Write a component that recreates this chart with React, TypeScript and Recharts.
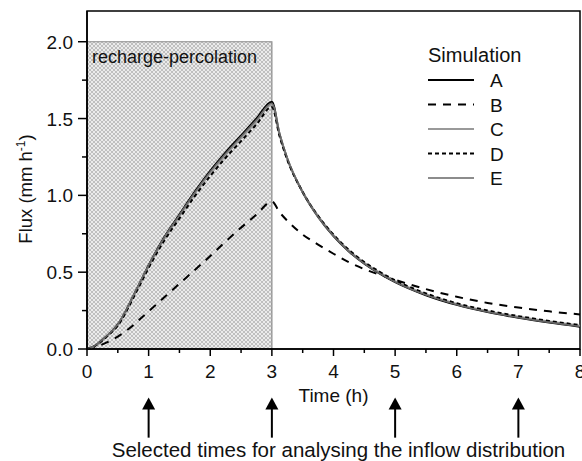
import React from 'react';
import { LineChart, Line, XAxis, YAxis, ReferenceArea, ReferenceLine, Legend } from 'recharts';

const times = [0, 0.125, 0.25, 0.375, 0.5, 0.625, 0.75, 0.875, 1, 1.25, 1.5, 1.75, 2, 2.25, 2.5, 2.75, 3, 3.125, 3.25, 3.5, 3.75, 4, 4.25, 4.5, 4.75, 5, 5.5, 6, 6.5, 7, 7.5, 8];
const simA = [0, 0.02, 0.06, 0.105, 0.16, 0.245, 0.345, 0.445, 0.545, 0.725, 0.875, 1.025, 1.16, 1.28, 1.39, 1.5, 1.61, 1.4, 1.24, 1.02, 0.86, 0.735, 0.635, 0.555, 0.49, 0.435, 0.35, 0.287, 0.24, 0.203, 0.172, 0.145];
const simB = [0, 0.01, 0.03, 0.053, 0.08, 0.115, 0.155, 0.2, 0.245, 0.335, 0.425, 0.515, 0.605, 0.7, 0.79, 0.875, 0.96, 0.89, 0.835, 0.745, 0.68, 0.62, 0.565, 0.52, 0.483, 0.45, 0.39, 0.34, 0.3, 0.27, 0.245, 0.225];
const simC = [0, 0.019, 0.058, 0.102, 0.156, 0.24, 0.34, 0.44, 0.539, 0.717, 0.865, 1.013, 1.146, 1.265, 1.374, 1.483, 1.592, 1.395, 1.238, 1.022, 0.864, 0.74, 0.64, 0.56, 0.496, 0.441, 0.356, 0.293, 0.246, 0.209, 0.178, 0.151];
const simD = [0, 0.018, 0.056, 0.1, 0.152, 0.234, 0.332, 0.43, 0.528, 0.703, 0.85, 0.995, 1.126, 1.245, 1.353, 1.462, 1.575, 1.385, 1.232, 1.022, 0.866, 0.744, 0.645, 0.566, 0.502, 0.447, 0.362, 0.298, 0.251, 0.214, 0.183, 0.155];
const simE = [0, 0.02, 0.06, 0.104, 0.159, 0.244, 0.344, 0.444, 0.543, 0.722, 0.871, 1.02, 1.154, 1.273, 1.383, 1.492, 1.6, 1.397, 1.239, 1.021, 0.862, 0.737, 0.637, 0.557, 0.492, 0.437, 0.352, 0.289, 0.242, 0.205, 0.174, 0.147];

const seriesNames = ['A', 'B', 'C', 'D', 'E'];
const xTicks = [0, 0.5, 1, 1.5, 2, 2.5, 3, 3.5, 4, 4.5, 5, 5.5, 6, 6.5, 7, 7.5, 8];
const yTicks = [0, 0.25, 0.5, 0.75, 1, 1.25, 1.5, 1.75, 2];
const arrowTimes = [1, 3, 5, 7];
const phaseLabel = 'recharge-percolation';
const bottomNote = 'Selected times for analysing the inflow distribution';

const data = times.map((t, i) => ({ t, A: simA[i], B: simB[i], C: simC[i], D: simD[i], E: simE[i] }));

const styles: Record<string, { color: string; dash?: string; width: number }> = {
  A: { color: '#000', width: 2 },
  B: { color: '#000', dash: '8 7', width: 2 },
  C: { color: '#999', width: 2.2 },
  D: { color: '#000', dash: '4 3', width: 2 },
  E: { color: '#666', width: 1.3 },
};

const FONT = '"Liberation Sans", Arial, sans-serif';

const XTick = (props: any) => {
  const { x, y, payload } = props;
  const v = payload.value;
  const major = Math.abs(v - Math.round(v)) < 1e-6;
  return (
    <g>
      <line x1={x} x2={x} y1={y} y2={y + (major ? 7 : 4)} stroke="#000" strokeWidth={1.5} />
      {major && (
        <text x={x} y={y + 29} textAnchor="middle" fontSize={19} fill="#111" fontFamily={FONT}>
          {v}
        </text>
      )}
    </g>
  );
};

const YTick = (props: any) => {
  const { x, y, payload } = props;
  const v = payload.value;
  const major = Math.abs(v * 2 - Math.round(v * 2)) < 1e-6;
  return (
    <g>
      <line x1={x - (major ? 9 : 5)} x2={x} y1={y} y2={y} stroke="#000" strokeWidth={1.5} />
      {major && (
        <text x={x - 14} y={y + 7} textAnchor="end" fontSize={19} fill="#111" fontFamily={FONT}>
          {v.toFixed(1)}
        </text>
      )}
    </g>
  );
};

const XLabel = (props: any) => {
  const vb = props.viewBox || { x: 87, y: 349, width: 493, height: 30 };
  const cx = vb.x + vb.width / 2;
  return (
    <g fontFamily={FONT} fill="#111">
      <text x={cx} y={vb.y + 53} textAnchor="middle" fontSize={19}>Time (h)</text>
      <text x={cx + 5} y={vb.y + 108} textAnchor="middle" fontSize={20.5}>{bottomNote}</text>
    </g>
  );
};

const YLabel = (props: any) => {
  const vb = props.viewBox || { x: 0, y: 11, width: 87, height: 338 };
  const cx = vb.x + 32;
  const cy = vb.y + vb.height / 2 + 9;
  return (
    <text
      x={cx}
      y={cy}
      textAnchor="middle"
      fontSize={18.5}
      fill="#111"
      fontFamily={FONT}
      transform={`rotate(-90, ${cx}, ${cy})`}
    >
      Flux (mm h
      <tspan dy={-7} fontSize={12}>-1</tspan>
      <tspan dy={7}>)</tspan>
    </text>
  );
};

const PhaseLabel = (props: any) => {
  const vb = props.viewBox || { x: 87, y: 42 };
  return (
    <text x={vb.x + 5} y={vb.y + 21} fontSize={18} fill="#111" fontFamily={FONT}>
      {phaseLabel}
    </text>
  );
};

const Arrow = (p: any) => {
  if (p.x1 == null) return null;
  const x = p.x1;
  const tip = Math.min(p.y1, p.y2);
  const tail = Math.max(p.y1, p.y2);
  return (
    <g>
      <line x1={x} x2={x} y1={tip + 10} y2={tail} stroke="#000" strokeWidth={2} />
      <polygon points={`${x},${tip} ${x - 6.5},${tip + 12} ${x + 6.5},${tip + 12}`} fill="#000" />
    </g>
  );
};

const LegendBox = () => (
  <svg width={120} height={160} style={{ overflow: 'visible' }}>
    <text x={8} y={22} fontSize={20} fill="#111" fontFamily={FONT}>Simulation</text>
    {seriesNames.map((n, i) => {
      const cy = 40 + i * 24.5;
      const s = styles[n];
      return (
        <g key={n}>
          <line x1={8} x2={54} y1={cy} y2={cy} stroke={s.color} strokeWidth={s.width} strokeDasharray={s.dash} />
          <text x={70} y={cy + 7} fontSize={19} fill="#111" fontFamily={FONT}>{n}</text>
        </g>
      );
    })}
  </svg>
);

export default function App() {
  return (
    <div style={{ position: 'absolute', left: 0, top: 0, width: 582, height: 461, background: '#fff' }}>
      <LineChart
        width={582}
        height={461}
        data={data}
        margin={{ top: 11, right: 2, bottom: 82, left: 0 }}
        style={{ fontFamily: FONT }}
      >
        <defs>
          <pattern id="hatch" width={4} height={4} patternUnits="userSpaceOnUse">
            <rect x={0} y={0} width={4} height={4} fill="#ebebeb" />
            <path d="M0,0 L4,4 M4,0 L0,4" stroke="#b4b4b4" strokeWidth={0.8} />
          </pattern>
        </defs>
        <XAxis
          dataKey="t"
          type="number"
          domain={[0, 8]}
          ticks={xTicks}
          interval={0}
          height={30}
          tickSize={0}
          tickMargin={0}
          tickLine={false}
          axisLine={{ stroke: '#000', strokeWidth: 1.5 }}
          tick={<XTick />}
          label={<XLabel />}
        />
        <YAxis
          type="number"
          domain={[0, 2.2]}
          ticks={yTicks}
          interval={0}
          width={87}
          tickSize={0}
          tickMargin={0}
          tickLine={false}
          axisLine={{ stroke: '#000', strokeWidth: 1.5 }}
          tick={<YTick />}
          label={<YLabel />}
        />
        <ReferenceArea
          x1={0}
          x2={3}
          y1={0}
          y2={2}
          fill="url(#hatch)"
          fillOpacity={1}
          stroke="#8a8a8a"
          strokeWidth={1.2}
          ifOverflow="visible"
          label={<PhaseLabel />}
        />
        {seriesNames.map((n) => (
          <Line
            key={n}
            type="monotone"
            dataKey={n}
            stroke={styles[n].color}
            strokeWidth={styles[n].width}
            strokeDasharray={styles[n].dash}
            dot={false}
            activeDot={false}
            isAnimationActive={false}
          />
        ))}
        <ReferenceArea x1={0} x2={8} y1={0} y2={2.2} fill="none" stroke="#000" strokeWidth={1.5} ifOverflow="visible" />
        {arrowTimes.map((t) => (
          <ReferenceLine
            key={t}
            segment={[{ x: t, y: -0.316 }, { x: t, y: -0.577 }]}
            ifOverflow="visible"
            stroke="#000"
            shape={<Arrow />}
          />
        ))}
        <Legend
          layout="vertical"
          align="center"
          verticalAlign="middle"
          wrapperStyle={{ left: 420, top: 40, width: 120, height: 160 }}
          content={<LegendBox />}
        />
      </LineChart>
    </div>
  );
}
